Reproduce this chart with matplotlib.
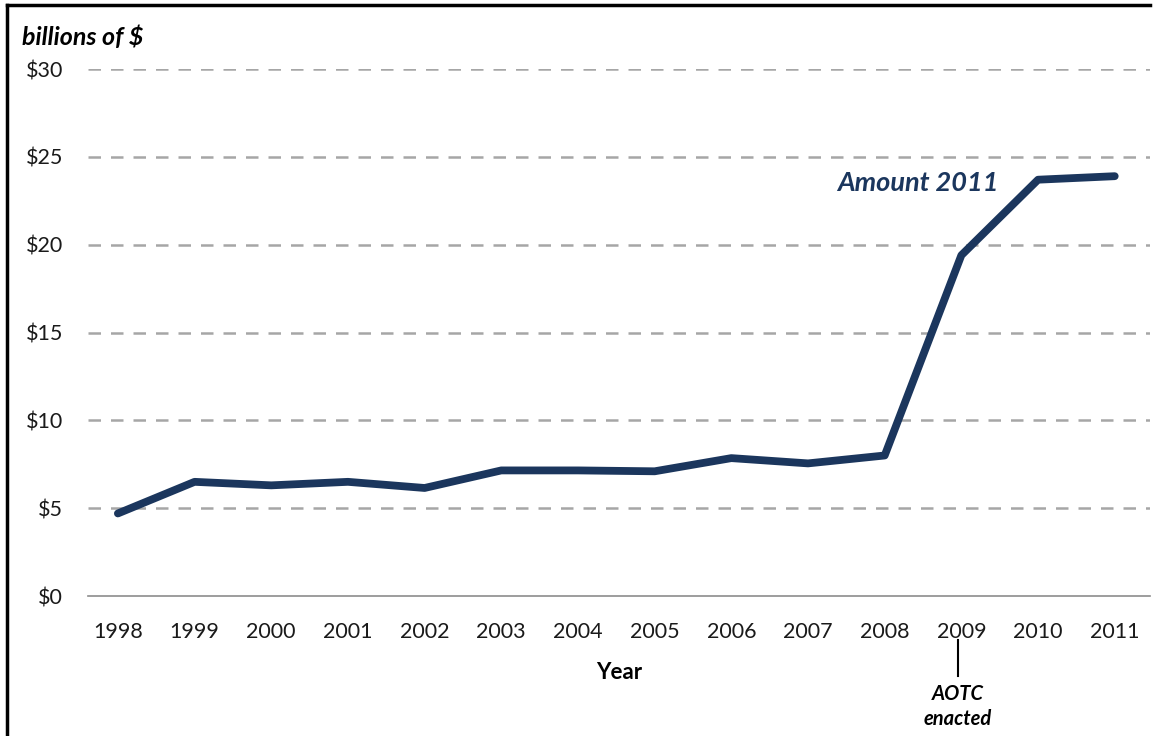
import matplotlib
matplotlib.use('Agg')
import matplotlib.pyplot as plt
from matplotlib.lines import Line2D
import numpy as np

plt.rcParams['font.family'] = ['Lato', 'DejaVu Sans']

# ==== data ====
years = ['1998', '1999', '2000', '2001', '2002', '2003', '2004',
         '2005', '2006', '2007', '2008', '2009', '2010', '2011']
amount = [4.7, 6.5, 6.3, 6.5, 6.15, 7.15, 7.15,
          7.1, 7.85, 7.55, 8.0, 19.4, 23.7, 23.9]
yticks = [0, 5, 10, 15, 20, 25, 30]
ytick_labels = ['$0', '$5', '$10', '$15', '$20', '$25', '$30']

navy = '#1B365D'
grid_gray = '#A6A6A6'

fig = plt.figure(figsize=(11.53, 7.36), dpi=100)
ax = fig.add_axes([0.0763, 0.1902, 0.9211, 0.7160])

x = np.arange(len(years))
ax.plot(x, amount, color=navy, linewidth=5.6, solid_joinstyle='round',
        solid_capstyle='round', zorder=3)

ax.set_xlim(-0.39, 13.46)
ax.set_ylim(0, 30)
ax.set_yticks(yticks)
ax.set_yticklabels(ytick_labels)
ax.set_xticks(x)
ax.set_xticklabels(years)

for y in yticks[1:]:
    ax.axhline(y, color=grid_gray, linewidth=1.8, linestyle=(0, (5, 4)), zorder=1)

for s in ['top', 'right', 'left']:
    ax.spines[s].set_visible(False)
ax.spines['bottom'].set_color('#8C8C8C')
ax.spines['bottom'].set_linewidth(1.2)

ax.tick_params(axis='both', length=0, labelsize=15.5, colors='#1a1a1a')
ax.tick_params(axis='y', pad=18)
ax.tick_params(axis='x', pad=19)

ax.set_xlabel('Year', fontsize=16, fontweight='bold', labelpad=14)

fig.text(22 / 1153, 1 - 37 / 736, 'billions of $', fontsize=18, fontweight='bold',
         fontstyle='italic', ha='left', va='center')

ax.text(9.38, 23.5, 'Amount 2011', fontsize=19.5, fontweight='bold', fontstyle='italic',
        color=navy, ha='left', va='center')

# AOTC annotation
fig.add_artist(Line2D([958 / 1153, 958 / 1153], [1 - 640 / 736, 1 - 676 / 736],
                      color='black', linewidth=1.5))
fig.text(958 / 1153, 1 - 694 / 736, 'AOTC', fontsize=14.5, fontweight='bold',
         fontstyle='italic', ha='center', va='center')
fig.text(958 / 1153, 1 - 719 / 736, 'enacted', fontsize=14.5, fontweight='bold',
         fontstyle='italic', ha='center', va='center')

# frame border (left and top)
fig.add_artist(Line2D([7 / 1153, 7 / 1153], [0, 1 - 5 / 736], color='black', linewidth=2.5))
fig.add_artist(Line2D([7 / 1153, 1150 / 1153], [1 - 5 / 736, 1 - 5 / 736],
                      color='black', linewidth=2.5))

plt.savefig('out.png', dpi=100)
